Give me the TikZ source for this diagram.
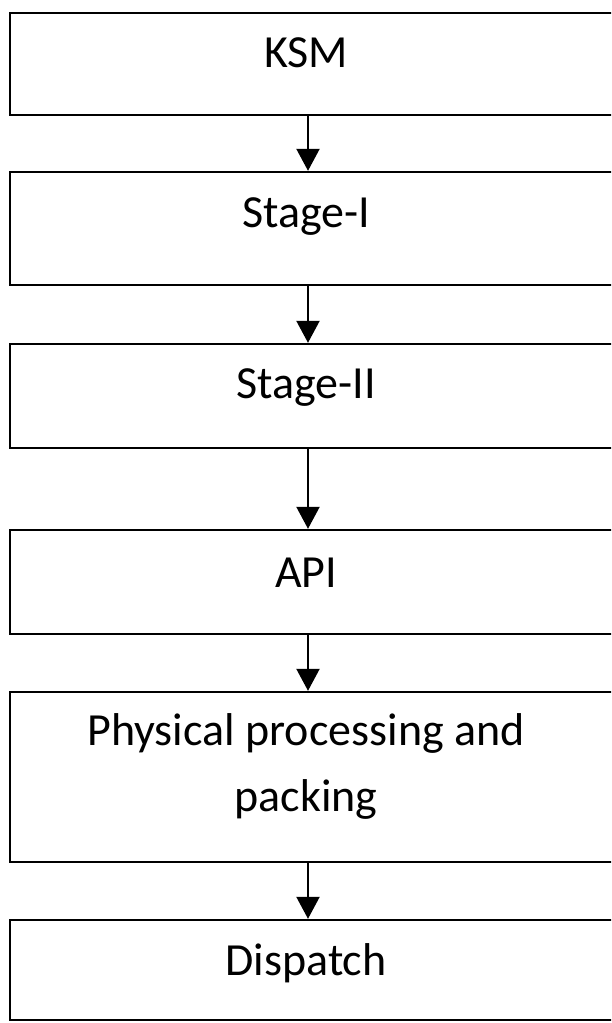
\documentclass[tikz,border=0pt]{standalone}
\usepackage{fontspec}
\setmainfont{Carlito}
\usetikzlibrary{arrows.meta}
\tikzset{
  box/.style={rectangle,draw,line width=2.4pt,minimum width=610pt,inner sep=0pt},
  lbl/.style={anchor=base,inner sep=0pt,align=center,font=\fontsize{46}{66}\selectfont},
  arr/.style={-{Triangle[width=23pt,length=22pt]},line width=2.2pt},
}
\begin{document}
\begin{tikzpicture}[x=1pt,y=-1pt]
	\useasboundingbox (0,0) rectangle (611,1023);
	\clip (0,0) rectangle (611,1023);
	\coordinate (ax) at (308,0);
	\coordinate (tx) at (306,0);

	\node (ksm) [box,minimum height=102pt] at (315,64){};
	\node (stageI) [box,minimum height=113pt] at (315,228.5){};
	\node (stageII) [box,minimum height=104pt] at (315,396){};
	\node (api) [box,minimum height=104pt] at (315,582){};
	\node (phys) [box,minimum height=170pt] at (315,777){};
	\node (disp) [box,minimum height=100pt] at (315,970){};

	\node (tksm) [lbl] at ([yshift=-56pt]ksm.north -| tx) {KSM};
	\node (tstageI) [lbl] at ([yshift=-57pt]stageI.north -| tx) {Stage-I};
	\node (tstageII) [lbl] at ([yshift=-56pt]stageII.north -| tx) {Stage-II};
	\node (tapi) [lbl] at ([yshift=-59pt]api.north -| tx) {API};
	% base anchor sits on the last line here
	\node (tphys) [lbl] at ([yshift=-121pt]phys.north -| tx) {Physical processing and\\packing};
	\node (tdisp) [lbl] at ([yshift=-57pt]disp.north -| tx) {Dispatch};

	\draw [arr] (ksm.south -| ax) -- (stageI.north -| ax);
	\draw [arr] (stageI.south -| ax) -- (stageII.north -| ax);
	\draw [arr] (stageII.south -| ax) -- (api.north -| ax);
	\draw [arr] (api.south -| ax) -- (phys.north -| ax);
	\draw [arr] (phys.south -| ax) -- (disp.north -| ax);
\end{tikzpicture}
\end{document}
